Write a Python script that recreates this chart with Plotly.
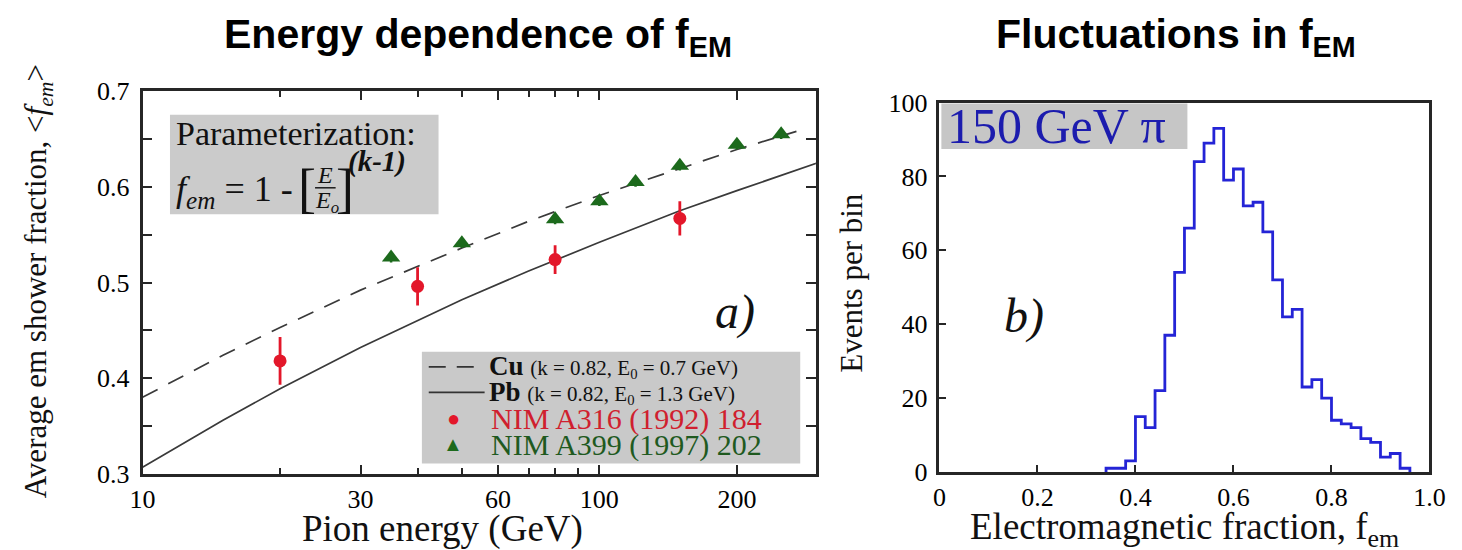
import plotly.graph_objects as go

# panel a) : average em fraction vs pion energy
energy_ticks = [10, 30, 60, 100, 200]
energy_minor = [20, 40, 50, 70, 80, 90, 300]
fem_ticks = [0.3, 0.4, 0.5, 0.6, 0.7]
fem_minor = [0.35, 0.45, 0.55, 0.65]

# parameterization curves
cu_energy = [10, 15, 20, 30, 50, 70, 100, 150, 200, 270]
cu_fem = [0.380, 0.424, 0.453, 0.492, 0.536, 0.564, 0.591, 0.619, 0.639, 0.658]
pb_energy = [10, 15, 20, 30, 50, 70, 100, 150, 200, 300]
pb_fem = [0.307, 0.356, 0.389, 0.432, 0.482, 0.512, 0.542, 0.575, 0.596, 0.625]

nim316_energy = [20, 40, 80, 150]
nim316_fem = [0.418, 0.496, 0.524, 0.567]
nim316_err = [0.025, 0.020, 0.015, 0.018]

nim399_energy = [35, 50, 80, 100, 120, 150, 200, 250]
nim399_fem = [0.526, 0.541, 0.566, 0.585, 0.605, 0.622, 0.644, 0.655]
nim399_err = [0.005, 0.005, 0.005, 0.005, 0.005, 0.005, 0.005, 0.005]

# panel b) : em fraction distribution for 150 GeV pions
fem_bins = [0.34, 0.36, 0.38, 0.40, 0.42, 0.44, 0.46, 0.48, 0.50, 0.52,
            0.54, 0.56, 0.58, 0.60, 0.62, 0.64, 0.66, 0.68, 0.70, 0.72,
            0.74, 0.76, 0.78, 0.80, 0.82, 0.84, 0.86, 0.88, 0.90, 0.92,
            0.94, 0.96]
events = [1, 1, 3, 15, 12, 22, 37, 54, 66, 84,
          89, 93, 79, 82, 72, 73, 65, 52, 42, 44,
          23, 25, 20, 14, 13, 12, 9, 8, 4, 5,
          1]
frac_ticks = [0, 0.2, 0.4, 0.6, 0.8, 1.0]
frac_labels = ['0', '0.2', '0.4', '0.6', '0.8', '1.0']
event_ticks = [0, 20, 40, 60, 80, 100]

SERIF = 'Liberation Serif, Times New Roman, serif'
SANS = 'Liberation Sans, Arial, sans-serif'
W, H = 1462, 550
AX = '#262626'
RED = '#e3172a'
GREEN = '#1c6a1c'
BLUE = '#2424d6'


def px(x):
    return x / W


def py(y):
    return 1 - y / H


fig = go.Figure()

fig.add_trace(go.Scatter(x=cu_energy, y=cu_fem, mode='lines',
                         line=dict(color='#3a3a3a', width=1.7, dash='17px,12px'),
                         xaxis='x', yaxis='y'))
fig.add_trace(go.Scatter(x=pb_energy, y=pb_fem, mode='lines',
                         line=dict(color='#3a3a3a', width=1.7),
                         xaxis='x', yaxis='y'))
fig.add_trace(go.Scatter(x=nim316_energy, y=nim316_fem, mode='markers',
                         marker=dict(symbol='circle', size=13, color=RED),
                         error_y=dict(type='data', array=nim316_err, color=RED,
                                      thickness=2.8, width=0),
                         xaxis='x', yaxis='y'))
fig.add_trace(go.Scatter(x=nim399_energy, y=nim399_fem, mode='markers',
                         marker=dict(symbol='triangle-up', size=16, color=GREEN),
                         error_y=dict(type='data', array=nim399_err, color=GREEN,
                                      thickness=2.5, width=0),
                         xaxis='x', yaxis='y'))

# histogram drawn as a step outline
step_x = [fem_bins[0]] + fem_bins
step_y = [0] + events + [0]
fig.add_trace(go.Scatter(x=step_x, y=step_y, mode='lines', line_shape='hv',
                         line=dict(color=BLUE, width=2.8),
                         xaxis='x2', yaxis='y2'))

tickfont = dict(family=SERIF, size=26, color='#000')
axis_common = dict(showgrid=False, zeroline=False, showline=True, linecolor=AX,
                   linewidth=2.5, ticks='inside', tickcolor=AX, tickwidth=2,
                   tickfont=tickfont)

fig.update_layout(
    width=W, height=H,
    margin=dict(l=0, r=0, t=0, b=0),
    paper_bgcolor='white', plot_bgcolor='white',
    showlegend=False,
    xaxis=dict(axis_common, type='log', domain=[px(124), px(811)],
               range=[1, 2.474], tickmode='array', tickvals=energy_ticks,
               ticktext=[str(v) for v in energy_ticks], ticklen=9,
               minor=dict(tickvals=energy_minor, ticks='inside', ticklen=6,
                          tickwidth=1.5, tickcolor=AX),
               mirror='ticks', anchor='y', ticklabelstandoff=0),
    yaxis=dict(axis_common, domain=[py(477), py(73)], range=[0.3, 0.7],
               tickmode='array', tickvals=fem_ticks,
               ticktext=[f'{v:.1f}' for v in fem_ticks], ticklen=10,
               minor=dict(tickvals=fem_minor, ticks='inside', ticklen=10,
                          tickwidth=2, tickcolor=AX),
               mirror='ticks', anchor='x', ticklabelstandoff=5),
    xaxis2=dict(axis_common, domain=[px(937), px(1437)], range=[0, 1.0],
                tickmode='array', tickvals=frac_ticks, ticktext=frac_labels,
                ticklen=7, mirror=True, anchor='y2', ticklabelstandoff=0),
    yaxis2=dict(axis_common, domain=[py(475), py(85)], range=[0, 100],
                tickmode='array', tickvals=event_ticks, ticklen=7,
                mirror=True, anchor='x2', ticklabelstandoff=4),
)

shapes = [
    # parameterization box
    dict(type='rect', xref='paper', yref='paper', x0=px(152), x1=px(426),
         y0=py(203), y1=py(98), fillcolor='#cbcbcb', line_width=0, layer='below'),
    # fraction bar in the formula
    dict(type='line', xref='paper', yref='paper', x0=px(300), x1=px(321),
         y0=py(175), y1=py(175), line=dict(color='#222', width=1.6)),
    # legend box
    dict(type='rect', xref='paper', yref='paper', x0=px(409), x1=px(795),
         y0=py(466), y1=py(348), fillcolor='#c9c9c9', line_width=0, layer='below'),
    dict(type='line', xref='paper', yref='paper', x0=px(416), x1=px(473),
         y0=py(364), y1=py(364), line=dict(color='#333', width=1.7, dash='17px,11px')),
    dict(type='line', xref='paper', yref='paper', x0=px(416), x1=px(473),
         y0=py(391), y1=py(391), line=dict(color='#333', width=1.7)),
    # 150 GeV pi box
    dict(type='rect', xref='paper', yref='paper', x0=px(939), x1=px(1190),
         y0=py(134), y1=py(86), fillcolor='#c6c6c6', line_width=0, layer='below'),
]
fig.update_layout(shapes=shapes)


def note(text, x, y, size, family=SERIF, color='#111', xanchor='left',
         yanchor='middle', angle=0):
    fig.add_annotation(text=text, x=px(x), y=py(y), xref='paper', yref='paper',
                       xanchor=xanchor, yanchor=yanchor, showarrow=False,
                       borderpad=0, textangle=angle,
                       font=dict(family=family, size=size, color=color))


# panel titles
note('<b>Energy dependence of f<sub>EM</sub></b>', 466, 16, 41, SANS, '#000', 'center')
note('<b>Fluctuations in f<sub>EM</sub></b>', 1178, 16, 41, SANS, '#000', 'center')

# axis titles
note('Average em shower fraction, &lt;<i>f<sub>em</sub></i>&gt;', 17, 274, 31,
     xanchor='center', angle=-90)
note('Pion energy (GeV)', 430, 535, 37, xanchor='center')
note('Events per bin', 847, 275, 31, xanchor='center', angle=-90)
note('Electromagnetic fraction, f<sub>em</sub>', 1187, 536, 37, xanchor='center')

# parameterization text
note('Parameterization:', 157, 118, 34)
note('<i>f<sub>em</sub></i> = 1 -', 157, 179, 36)
note('[', 282, 176, 54)
note(']', 320, 176, 54)
note('<i>E</i>', 310, 161, 24, xanchor='center')
note('<i>E<sub>o</sub></i>', 312, 190, 24, xanchor='center')
note('<b><i>(k-1)</i></b>', 333, 147, 29)

note('<i>a)</i>', 728, 306, 48, xanchor='center')
note('<i>b)</i>', 1023, 310, 48, xanchor='center')

# legend entries
note('<b>Cu</b> <span style="font-size:21px">(k = 0.82, E<sub>0</sub> = 0.7 GeV)</span>',
     476, 364, 27)
note('<b>Pb</b> <span style="font-size:21px">(k = 0.82, E<sub>0</sub> = 1.3 GeV)</span>',
     476, 391, 27)
note('\u25CF', 441, 419, 22, color=RED, xanchor='center')
note('\u25B2', 441, 446, 20, color=GREEN, xanchor='center')
note('NIM A316 (1992) 184', 479, 419, 30, color='#d01f2f')
note('NIM A399 (1997) 202', 479, 447, 30, color='#1f5a1f')

note('150 GeV \u03C0', 944, 110, 50, color='#1c1cae')

fig.write_html("out.html")
